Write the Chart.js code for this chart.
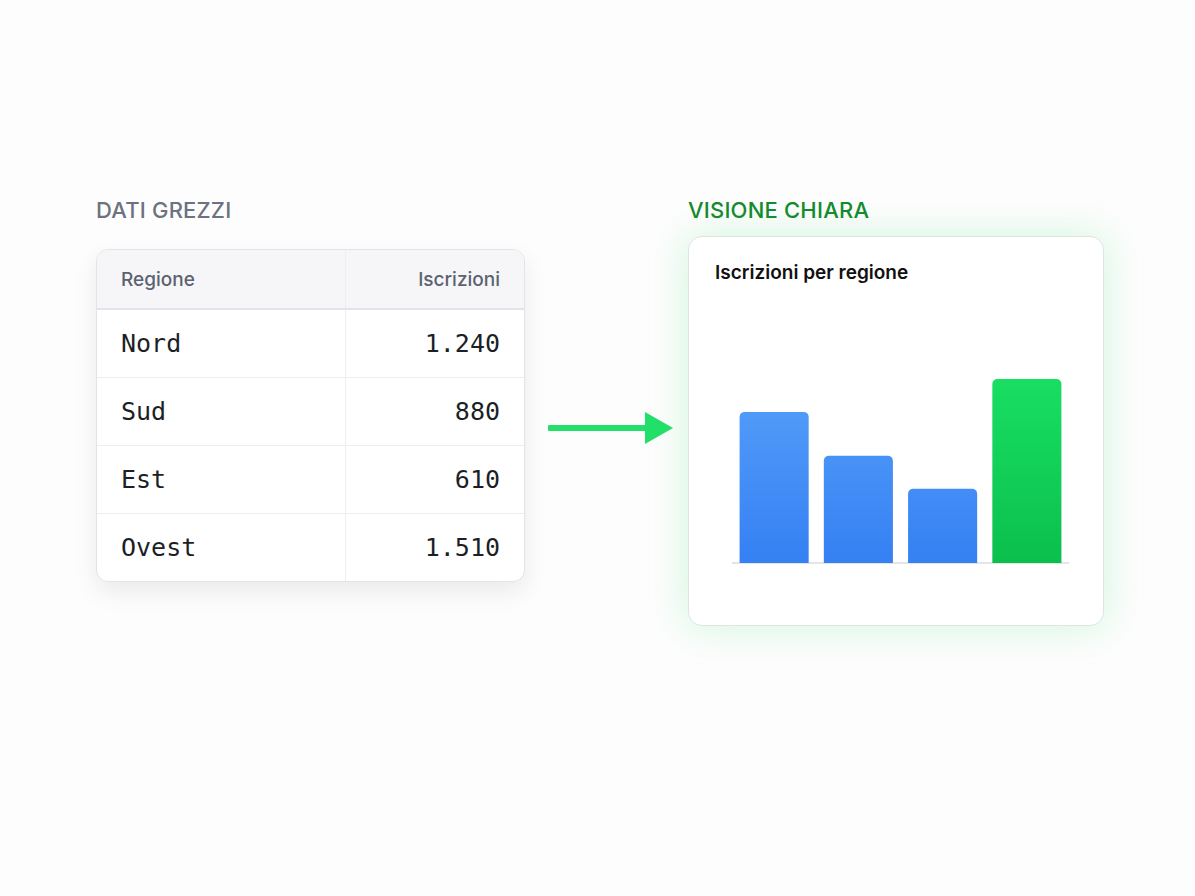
<!DOCTYPE html>
<html><head><meta charset="utf-8">
<script src="https://cdn.jsdelivr.net/npm/chart.js@4"></script>
<style>
body{margin:0;width:1195px;height:896px;background:#fdfdfd;font-family:Inter,"Noto Sans",sans-serif;position:relative;overflow:hidden}
.lbl{position:absolute;font-size:22px;font-weight:500;letter-spacing:0.2px}
#t{position:absolute;left:96px;top:249px;width:427px;height:331px;border:1px solid #e2e4ea;border-radius:12px;background:#fff;box-shadow:0 10px 24px rgba(0,0,0,0.08);overflow:hidden}
table{border-collapse:collapse;width:100%}
th{height:58px;background:#f6f6f9;color:#5b6270;font-weight:500;font-size:19px;border-bottom:2px solid #e2e4ea}
td{height:67px;font-family:"DejaVu Sans Mono",monospace;font-size:25px;color:#1c1f26;border-top:1px solid #eceef2}
th,td{padding:0 24px}
th:first-child,td:first-child{text-align:left;border-right:1px solid #eceef2;width:200px}
th:last-child,td:last-child{text-align:right}
#card{position:absolute;left:688px;top:236px;width:414px;height:388px;border:1px solid #dfe6e1;border-radius:14px;background:#fff;box-shadow:0 0 40px rgba(40,220,100,0.22)}
#ct{position:absolute;left:26px;top:24px;font-size:19px;font-weight:600;color:#111}
#cw{position:absolute;left:43px;top:64px;width:337px;height:270px}
</style></head><body>
<div class="lbl" style="left:96px;top:197px;color:#6b7280">DATI GREZZI</div>
<div class="lbl" style="left:688px;top:197px;color:#15892e">VISIONE CHIARA</div>
<div id="t"><table id="tb"></table></div>
<svg style="position:absolute;left:548px;top:410px" width="130" height="36"><line x1="2" y1="18" x2="100" y2="18" stroke="#22e06a" stroke-width="6" stroke-linecap="round"/><polygon points="97,2 125,18 97,34" fill="#22e06a"/></svg>
<div id="card"><div id="ct">Iscrizioni per regione</div><div id="cw"><canvas id="c"></canvas></div></div>
<script>
const headers=["Regione","Iscrizioni"];
const regions=["Nord","Sud","Est","Ovest"];
const values=[1240,880,610,1510];
const labelsFmt=["1.240","880","610","1.510"];
let h='<tr><th>'+headers[0]+'</th><th>'+headers[1]+'</th></tr>';
regions.forEach((r,i)=>h+='<tr><td>'+r+'</td><td>'+labelsFmt[i]+'</td></tr>');
document.getElementById('tb').innerHTML=h;
function grad(ctx,area,a,b){const g=ctx.createLinearGradient(0,area.top,0,area.bottom);g.addColorStop(0,a);g.addColorStop(1,b);return g;}
new Chart(document.getElementById('c'),{type:'bar',
data:{labels:regions,datasets:[{data:values,
backgroundColor:(c)=>{const {chart}=c;if(!chart.chartArea)return '#4a90f5';return c.dataIndex===3?grad(chart.ctx,chart.chartArea,'#1eec6c','#0bbf4d'):grad(chart.ctx,chart.chartArea,'#63adfc','#3580f3');},
borderRadius:{topLeft:5,topRight:5},borderSkipped:'bottom',categoryPercentage:1,barPercentage:0.82}]},
options:{responsive:true,maintainAspectRatio:false,animation:false,layout:{padding:0},
plugins:{legend:{display:false},tooltip:{enabled:false}},
scales:{x:{grid:{display:false},ticks:{display:false},border:{color:'#e3e5e8',width:2}},
y:{display:false,min:0,max:2150}}}});
</script></body></html>
